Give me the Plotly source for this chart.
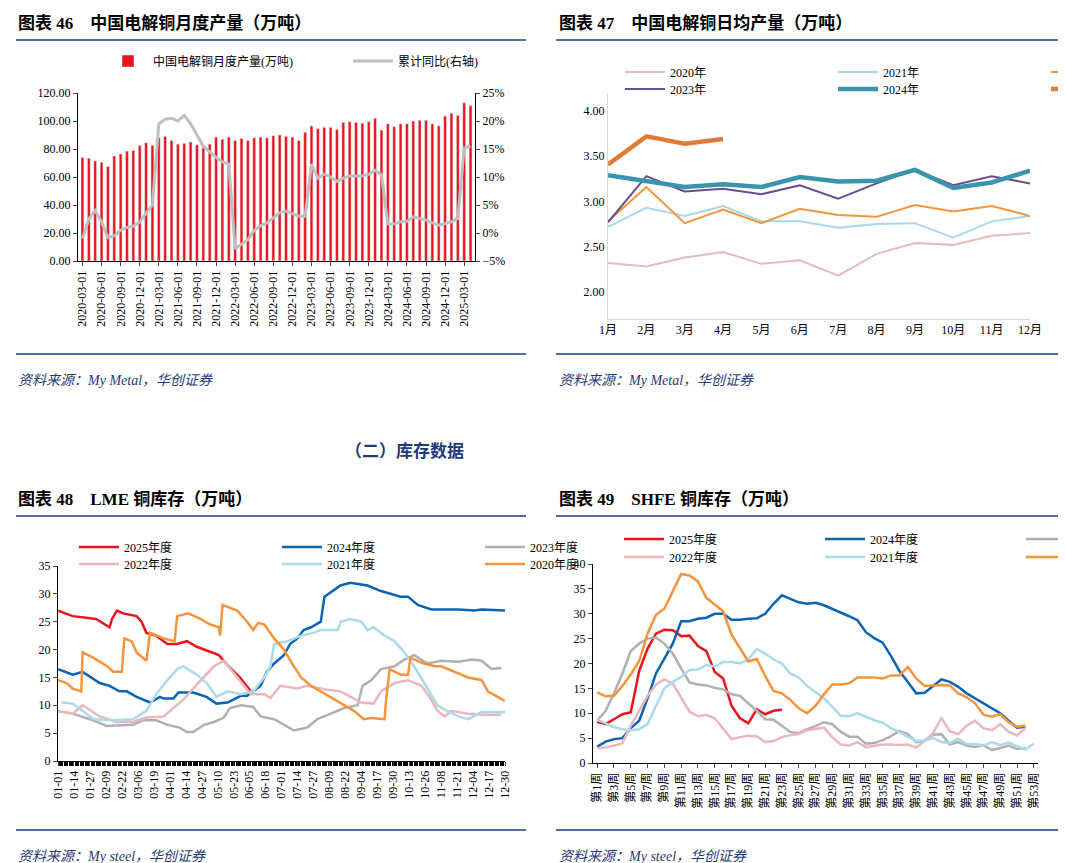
import plotly.graph_objects as go

# ---------- chart 46: monthly output ----------
months = []
for y in range(2020, 2026):
    for m in range(1, 13):
        months.append("%d-%02d-01" % (y, m))
months = months[2:64]  # 2020-03 .. 2025-04
output = [74, 73.5, 71.5, 70.5, 67.5, 75, 76.5, 78.5, 79, 82.5,
          84.5, 82.5, 88, 89, 86, 83.5, 84, 85, 83, 81, 83.5, 88.5,
          87, 88.5, 86, 87.5, 86, 88, 88.5, 88, 89.5, 90, 89, 88.5,
          86, 92, 96.5, 94.5, 95.5, 95.5, 94, 99, 99.5, 99, 98.5, 99.5, 102,
          93.5, 98, 96, 98, 98, 100, 100.5, 100.5, 98, 96.5, 103.5, 105.5,
          104, 113, 111]
yoy = [-1, 2.5, 4, 2, -0.8, -0.5, 0.5, 1, 1.2, 2,
       3.5, 5, 19.5, 20.3, 20.5, 20, 21, 19.5, 17.5, 15.5, 14.5, 13.5,
       12.7, 12.3, -2.8, -2, -1.2, 0.5, 1.3, 1.8, 2.7, 3.6, 3.9, 3.5,
       3, 3, 12.3, 9.8, 10.5, 10, 9.2, 9.8, 10.2, 10.2, 10.2, 10.5,
       11.2, 10.4, 1.6, 1.6, 2, 2.1, 2.9, 2.6, 2.3, 1.8, 1.4, 1.7,
       2, 2.6, 15.2, 15.5]

# ---------- chart 47: daily average ----------
month_cn = ["%d月" % i for i in range(1, 13)]
daily = {
    "2020年": [2.32, 2.28, 2.38, 2.44, 2.31, 2.35, 2.18, 2.42, 2.54, 2.52, 2.62, 2.65],
    "2021年": [2.72, 2.93, 2.84, 2.95, 2.78, 2.78, 2.71, 2.75, 2.76, 2.60, 2.78, 2.84],
    "2022年": [2.78, 3.16, 2.76, 2.91, 2.76, 2.92, 2.85, 2.83, 2.96, 2.89, 2.95, 2.84],
    "2023年": [2.77, 3.28, 3.11, 3.14, 3.08, 3.18, 3.03, 3.20, 3.35, 3.18, 3.28, 3.20],
    "2024年": [3.29, 3.22, 3.16, 3.19, 3.16, 3.27, 3.22, 3.23, 3.35, 3.15, 3.21, 3.34],
    "2025年": [3.41, 3.72, 3.64, 3.69],
}
daily_style = {
    "2020年": ("#E6BBBE", 2), "2021年": ("#A8D8E8", 2), "2022年": ("#F5943C", 2),
    "2023年": ("#6A4C93", 2), "2024年": ("#3A94AE", 4.5), "2025年": ("#E07B39", 4.5),
}

# ---------- chart 48: LME stocks (day of year, value) ----------
lme_days = ["01-01", "01-14", "01-27", "02-09", "02-22", "03-06", "03-19", "04-01",
            "04-14", "04-27", "05-10", "05-23", "06-05", "06-18", "07-01", "07-14",
            "07-27", "08-09", "08-22", "09-04", "09-17", "09-30", "10-13", "10-26",
            "11-08", "11-21", "12-04", "12-17", "12-30"]
lme = {
    "2025年度": ([0, 12, 31, 42, 44, 48, 53, 64, 68, 72, 80, 89, 97, 105, 113, 124, 131, 139, 148, 157],
              [27, 26, 25.5, 24, 25.5, 27, 26.5, 26, 25, 23, 22.5, 21, 21, 21.5, 20.5, 19.5, 19, 17, 15, 12.5]),
    "2024年度": ([0, 12, 20, 34, 42, 50, 56, 64, 75, 83, 86, 94, 98, 110, 121, 129, 138, 149, 154, 165, 170,
               176, 184, 189, 195, 200, 206, 214, 217, 223, 230, 238, 252, 263, 271, 279, 285, 293, 304,
               326, 339, 345, 364],
              [16.5, 15.5, 16, 14, 13.5, 12.5, 12.5, 11.5, 10.5, 11.5, 11.2, 11.2, 12.3, 12.3, 11.5, 10.3,
               10.5, 11.7, 11.7, 13.5, 16, 17.5, 19, 21, 22, 23.5, 24, 25, 29.5, 30.5, 31.5, 32, 31.5,
               30.5, 30, 29.5, 29.5, 28, 27.2, 27.2, 27, 27.2, 27]),
    "2023年度": ([0, 12, 26, 40, 61, 69, 80, 89, 99, 105, 110, 119, 127, 135, 140, 149, 159, 165, 176, 192,
               203, 211, 222, 233, 244, 248, 255, 263, 274, 282, 290, 301, 312, 326, 337, 345, 353, 361],
              [9, 8.5, 7.5, 6.3, 6.5, 7.3, 7.3, 6.5, 6, 5.2, 5.2, 6.5, 7, 7.8, 9.5, 10, 9.7, 8, 7.5, 5.5,
               6, 7.5, 8.5, 9.5, 10, 13.5, 14.5, 16.5, 17, 18.2, 19, 17.5, 18, 17.8, 18.2, 18, 16.5, 16.7]),
    "2022年度": ([0, 12, 20, 34, 48, 61, 72, 86, 94, 102, 110, 121, 127, 135, 146, 157, 168, 173, 181, 195,
               203, 219, 230, 247, 257, 263, 274, 285, 296, 304, 309, 315, 320, 334, 345, 361],
              [9, 8.5, 10, 8, 7, 7, 7.8, 8, 9.5, 11, 13, 15.5, 17, 18, 15, 12, 12, 11.3, 13.5, 13, 13.5,
               12.8, 12.5, 10.5, 10.3, 12.5, 14, 14.5, 13.5, 11, 9, 8, 9, 8.5, 8.3, 8.3]),
    "2021年度": ([3, 12, 23, 29, 45, 61, 72, 80, 89, 97, 102, 113, 121, 129, 138, 149, 159, 168, 173, 176,
               187, 198, 208, 214, 228, 230, 238, 247, 252, 257, 266, 274, 282, 290, 301, 309, 317, 326,
               334, 345, 364],
              [10.5, 10.3, 8.5, 7.5, 7.3, 7.5, 9, 12, 14.5, 16.5, 17, 15.5, 14, 11.5, 12.5, 12, 12.5, 15,
               17, 21, 21.5, 22.5, 23, 23.5, 23.5, 25, 25.5, 25, 23.5, 24, 22.5, 21.5, 19.5, 17, 13, 10,
               9, 8, 7.5, 8.8, 8.8]),
    "2020年度": ([0, 7, 12, 19, 20, 29, 40, 45, 52, 54, 60, 64, 72, 75, 86, 95, 97, 106, 116, 124, 131, 132,
               134, 146, 154, 159, 163, 168, 176, 184, 192, 198, 206, 214, 222, 230, 241, 249, 255, 266,
               267, 270, 279, 285, 287, 298, 307, 312, 323, 334, 345, 350, 358, 364],
              [14.5, 14, 13, 12.5, 19.5, 18.5, 17, 16, 16, 22, 21.5, 19.5, 18, 23, 22, 21.5, 26, 26.5,
               25.5, 24.5, 24, 22.5, 28, 27, 25, 23.5, 24.8, 24.5, 22, 20, 17, 15, 13.5, 12.5, 11.5, 10.5,
               9, 7.5, 7.7, 7.5, 10.5, 16.5, 15.5, 15.5, 18.5, 17.5, 17, 17, 16, 15, 14.5, 12.5, 11.5, 10.8]),
}
stock_color = {"2025年度": "#E8141E", "2024年度": "#0A64B4", "2023年度": "#B0B0B0",
               "2022年度": "#EAB8BC", "2021年度": "#ABDAEA", "2020年度": "#F5943C"}

# ---------- chart 49: SHFE stocks (weekly) ----------
weeks = ["第%d周" % i for i in range(1, 54)]
shfe = {
    "2025年度": [8.3, 7.8, 8.8, 9.8, 10.2, 18.5, 23, 26, 26.8, 26.7, 25.5, 25.6, 23.5, 22.5, 18.3, 17,
              11.5, 9, 8, 10.8, 9.8, 10.5, 10.7],
    "2024年度": [3.3, 4.3, 4.8, 5, 7, 8.5, 13, 18, 21, 24, 28.5, 28.5, 29, 29.2, 30, 30, 28.8, 28.8, 29,
              29.1, 30, 32, 33.7, 33, 32.3, 32, 32.2, 31.7, 31, 30.2, 29.5, 28.7, 26.3, 25.1, 24.2, 21.5,
              18.5, 16.3, 14, 14.1, 15.5, 16.8, 16.3, 15.3, 14, 13, 12, 11, 10, 8.5, 7.1, 7.3],
    "2023年度": [8.5, 10.5, 14, 18, 22.5, 24, 25, 25.2, 24, 22, 19, 16.2, 15.8, 15.6, 15.1, 14.8, 13.8,
              13.5, 12, 10.5, 8.8, 8.7, 7.5, 6.2, 6, 6.8, 7.4, 8.2, 7.8, 6.3, 5.3, 5.3, 3.9, 4, 4.6, 5.4,
              6.4, 5.8, 4.2, 4.4, 5.7, 5.8, 3.7, 4.2, 3.5, 3.2, 3.6, 2.6, 3, 3.5, 2.8, 3],
    "2022年度": [3, 3.1, 3.5, 4, 7.5, 10.5, 13.5, 15.8, 16.8, 16, 13, 10.3, 9.4, 9.7, 9, 7, 4.8, 5.2, 5.5,
              5.4, 4.2, 4.4, 5.2, 5.6, 5.8, 6.6, 6.9, 7.1, 5.2, 3.7, 3.5, 4.2, 3.2, 3.5, 3.7, 3.7, 3.6,
              3.7, 3.1, 4.5, 6, 9, 6.4, 5.8, 7.5, 8.5, 7, 6.6, 7.8, 6.3, 5.5, 7],
    "2021年度": [8.7, 8, 7.2, 6.8, 6.6, 6.8, 7.8, 11.5, 15, 16.3, 17.3, 18.7, 18.8, 19.7, 19.4, 20.3, 20.3,
              20, 20.8, 22.9, 22, 20.8, 20, 18, 17.2, 15.5, 14.2, 13, 11.3, 9.5, 9.4, 10, 9.3, 8.6, 8.1,
              7, 6.2, 5.3, 4.4, 4.5, 5, 4.2, 4, 4.9, 3.8, 3.8, 3.5, 4.2, 3.6, 4.1, 3.4, 2.7, 3.9],
    "2020年度": [14.2, 13.4, 13.5, 15.5, 17.8, 20.5, 26, 29.8, 31, 34.5, 38, 37.7, 36.5, 33.2, 31.8, 30.5,
              25.8, 23, 20.4, 20.9, 17.5, 14.5, 14, 12.7, 11, 10, 11.5, 13.8, 15.8, 15.8, 16, 17.2, 17.2,
              17.2, 17, 17.6, 17.6, 19.3, 17, 15.5, 15.6, 15.7, 15.6, 14, 13.2, 12, 9.7, 9.3, 9.8, 8.2,
              7.3, 7.5],
}

W, H = 1066, 863
FONT = "Liberation Serif, Noto Sans CJK SC"


def px(x):
    return x / W


def py(y):
    return 1 - y / H


fig = go.Figure()

# chart 46
fig.add_trace(go.Bar(x=months, y=output, name="中国电解铜月度产量(万吨)", marker_color="#E8141E",
                     width=0.45, xaxis="x", yaxis="y", legend="legend"))
fig.add_trace(go.Scatter(x=months, y=yoy, name="累计同比(右轴)", mode="lines",
                         line=dict(color="#BFBFBF", width=3), xaxis="x", yaxis="y2", legend="legend"))

# chart 47
for i, (k, v) in enumerate(daily.items()):
    c, w = daily_style[k]
    fig.add_trace(go.Scatter(x=month_cn[:len(v)], y=v, name=k, mode="lines", line=dict(color=c, width=w),
                             xaxis="x2", yaxis="y3", legend="legend2" if i < 3 else "legend3"))

# chart 48 / 49
for i, k in enumerate(lme):
    dx, dv = lme[k]
    fig.add_trace(go.Scatter(x=dx, y=dv, name=k, mode="lines", line=dict(color=stock_color[k], width=2.5),
                             xaxis="x3", yaxis="y4", legend="legend4" if i < 3 else "legend5"))
for i, k in enumerate(shfe):
    v = shfe[k]
    fig.add_trace(go.Scatter(x=weeks[:len(v)], y=v, name=k, mode="lines",
                             line=dict(color=stock_color[k], width=2.5),
                             xaxis="x4", yaxis="y5", legend="legend6" if i < 3 else "legend7"))

tickfont = dict(family=FONT, size=12, color="black")
ax_common = dict(showgrid=False, zeroline=False, showline=True, ticks="outside", tickfont=tickfont)

legfont = dict(family=FONT, size=12, color="black")


def leg(x, y, w):
    return dict(x=px(x), y=py(y), xanchor="left", yanchor="middle", orientation="h", font=legfont,
                bgcolor="rgba(0,0,0,0)", entrywidth=w, entrywidthmode="pixels", itemwidth=40,
                tracegroupgap=0)


fig.update_layout(
    width=W, height=H, margin=dict(l=0, r=0, t=0, b=0, autoexpand=False),
    plot_bgcolor="white", paper_bgcolor="white", barmode="overlay",
    xaxis=dict(ax_common, domain=[px(70), px(467)], anchor="y", type="category", tickangle=-90,
               tickvals=months[::3], linecolor="black", ticklen=4, range=[-0.7, len(months) - 0.3]),
    yaxis=dict(ax_common, domain=[py(253), py(85)], range=[0, 120], dtick=20, tickformat=".2f",
               linecolor="black", ticklen=4, anchor="x"),
    yaxis2=dict(ax_common, overlaying="y", side="right", range=[-5, 25], dtick=5, ticksuffix="%",
                linecolor="black", ticklen=4, anchor="x"),
    xaxis2=dict(ax_common, domain=[px(600), px(1022)], anchor="y3", type="category",
                categoryarray=month_cn, categoryorder="array", linecolor="#D9D9D9", ticks=""),
    yaxis3=dict(ax_common, domain=[py(311), py(85)], range=[1.7, 4.2], dtick=0.5, tickformat=".2f",
                linecolor="#D9D9D9", ticks="", anchor="x2"),
    xaxis3=dict(ax_common, domain=[px(50), px(497)], anchor="y4", range=[0, 364],
                tickvals=list(range(0, 365, 13)), ticktext=lme_days, tickangle=-90, linecolor="black",
                ticklen=4, minor=dict(dtick=1, ticks="outside", ticklen=4, tickcolor="black", tickwidth=0.6)),
    yaxis4=dict(ax_common, domain=[py(753), py(558)], range=[0, 35], dtick=5, linecolor="black",
                ticklen=4, anchor="x3"),
    xaxis4=dict(ax_common, domain=[px(585), px(1030)], anchor="y5", type="category",
                categoryarray=weeks, categoryorder="array", tickvals=weeks[::2], tickangle=-90,
                linecolor="black", ticklen=4, range=[-0.5, 52.5]),
    yaxis5=dict(ax_common, domain=[py(755), py(556)], range=[0, 40], dtick=5, linecolor="black",
                ticklen=4, anchor="x4"),
    legend=leg(95, 53, 190),
    legend2=leg(612, 64, 158),
    legend3=leg(612, 81, 158),
    legend4=leg(66, 539, 148),
    legend5=leg(66, 556, 148),
    legend6=leg(611, 531, 146),
    legend7=leg(611, 549, 146),
)

titles = [(8, 15, "图表 46    中国电解铜月度产量（万吨）"), (549, 15, "图表 47    中国电解铜日均产量（万吨）"),
          (8, 491, "图表 48    LME 铜库存（万吨）"), (549, 491, "图表 49    SHFE 铜库存（万吨）")]
for x, y, t in titles:
    fig.add_annotation(x=px(x), y=py(y), xref="paper", yref="paper", xanchor="left", yanchor="middle",
                       text="<b>%s</b>" % t, showarrow=False,
                       font=dict(family=FONT, size=17, color="black"))
sources = [(8, 372, "My Metal"), (549, 372, "My Metal"), (8, 848, "My steel"), (549, 848, "My steel")]
for x, y, s in sources:
    fig.add_annotation(x=px(x), y=py(y), xref="paper", yref="paper", xanchor="left", yanchor="middle",
                       text="<i>资料来源：%s，华创证券</i>" % s, showarrow=False,
                       font=dict(family=FONT, size=14, color="#1F3A78"))
fig.add_annotation(x=px(335), y=py(443), xref="paper", yref="paper", text="<b>（二）库存数据</b>",
                   showarrow=False, font=dict(family=FONT, size=17, color="#1F3A78"))

for x0, x1 in [(8, 518), (548, 1058)]:
    for y in [32, 346, 508, 822]:
        fig.add_shape(type="line", xref="paper", yref="paper", x0=px(x0), x1=px(x1), y0=py(y), y1=py(y),
                      line=dict(color="#1F3A78", width=1.5))

fig.write_html("out.html")
